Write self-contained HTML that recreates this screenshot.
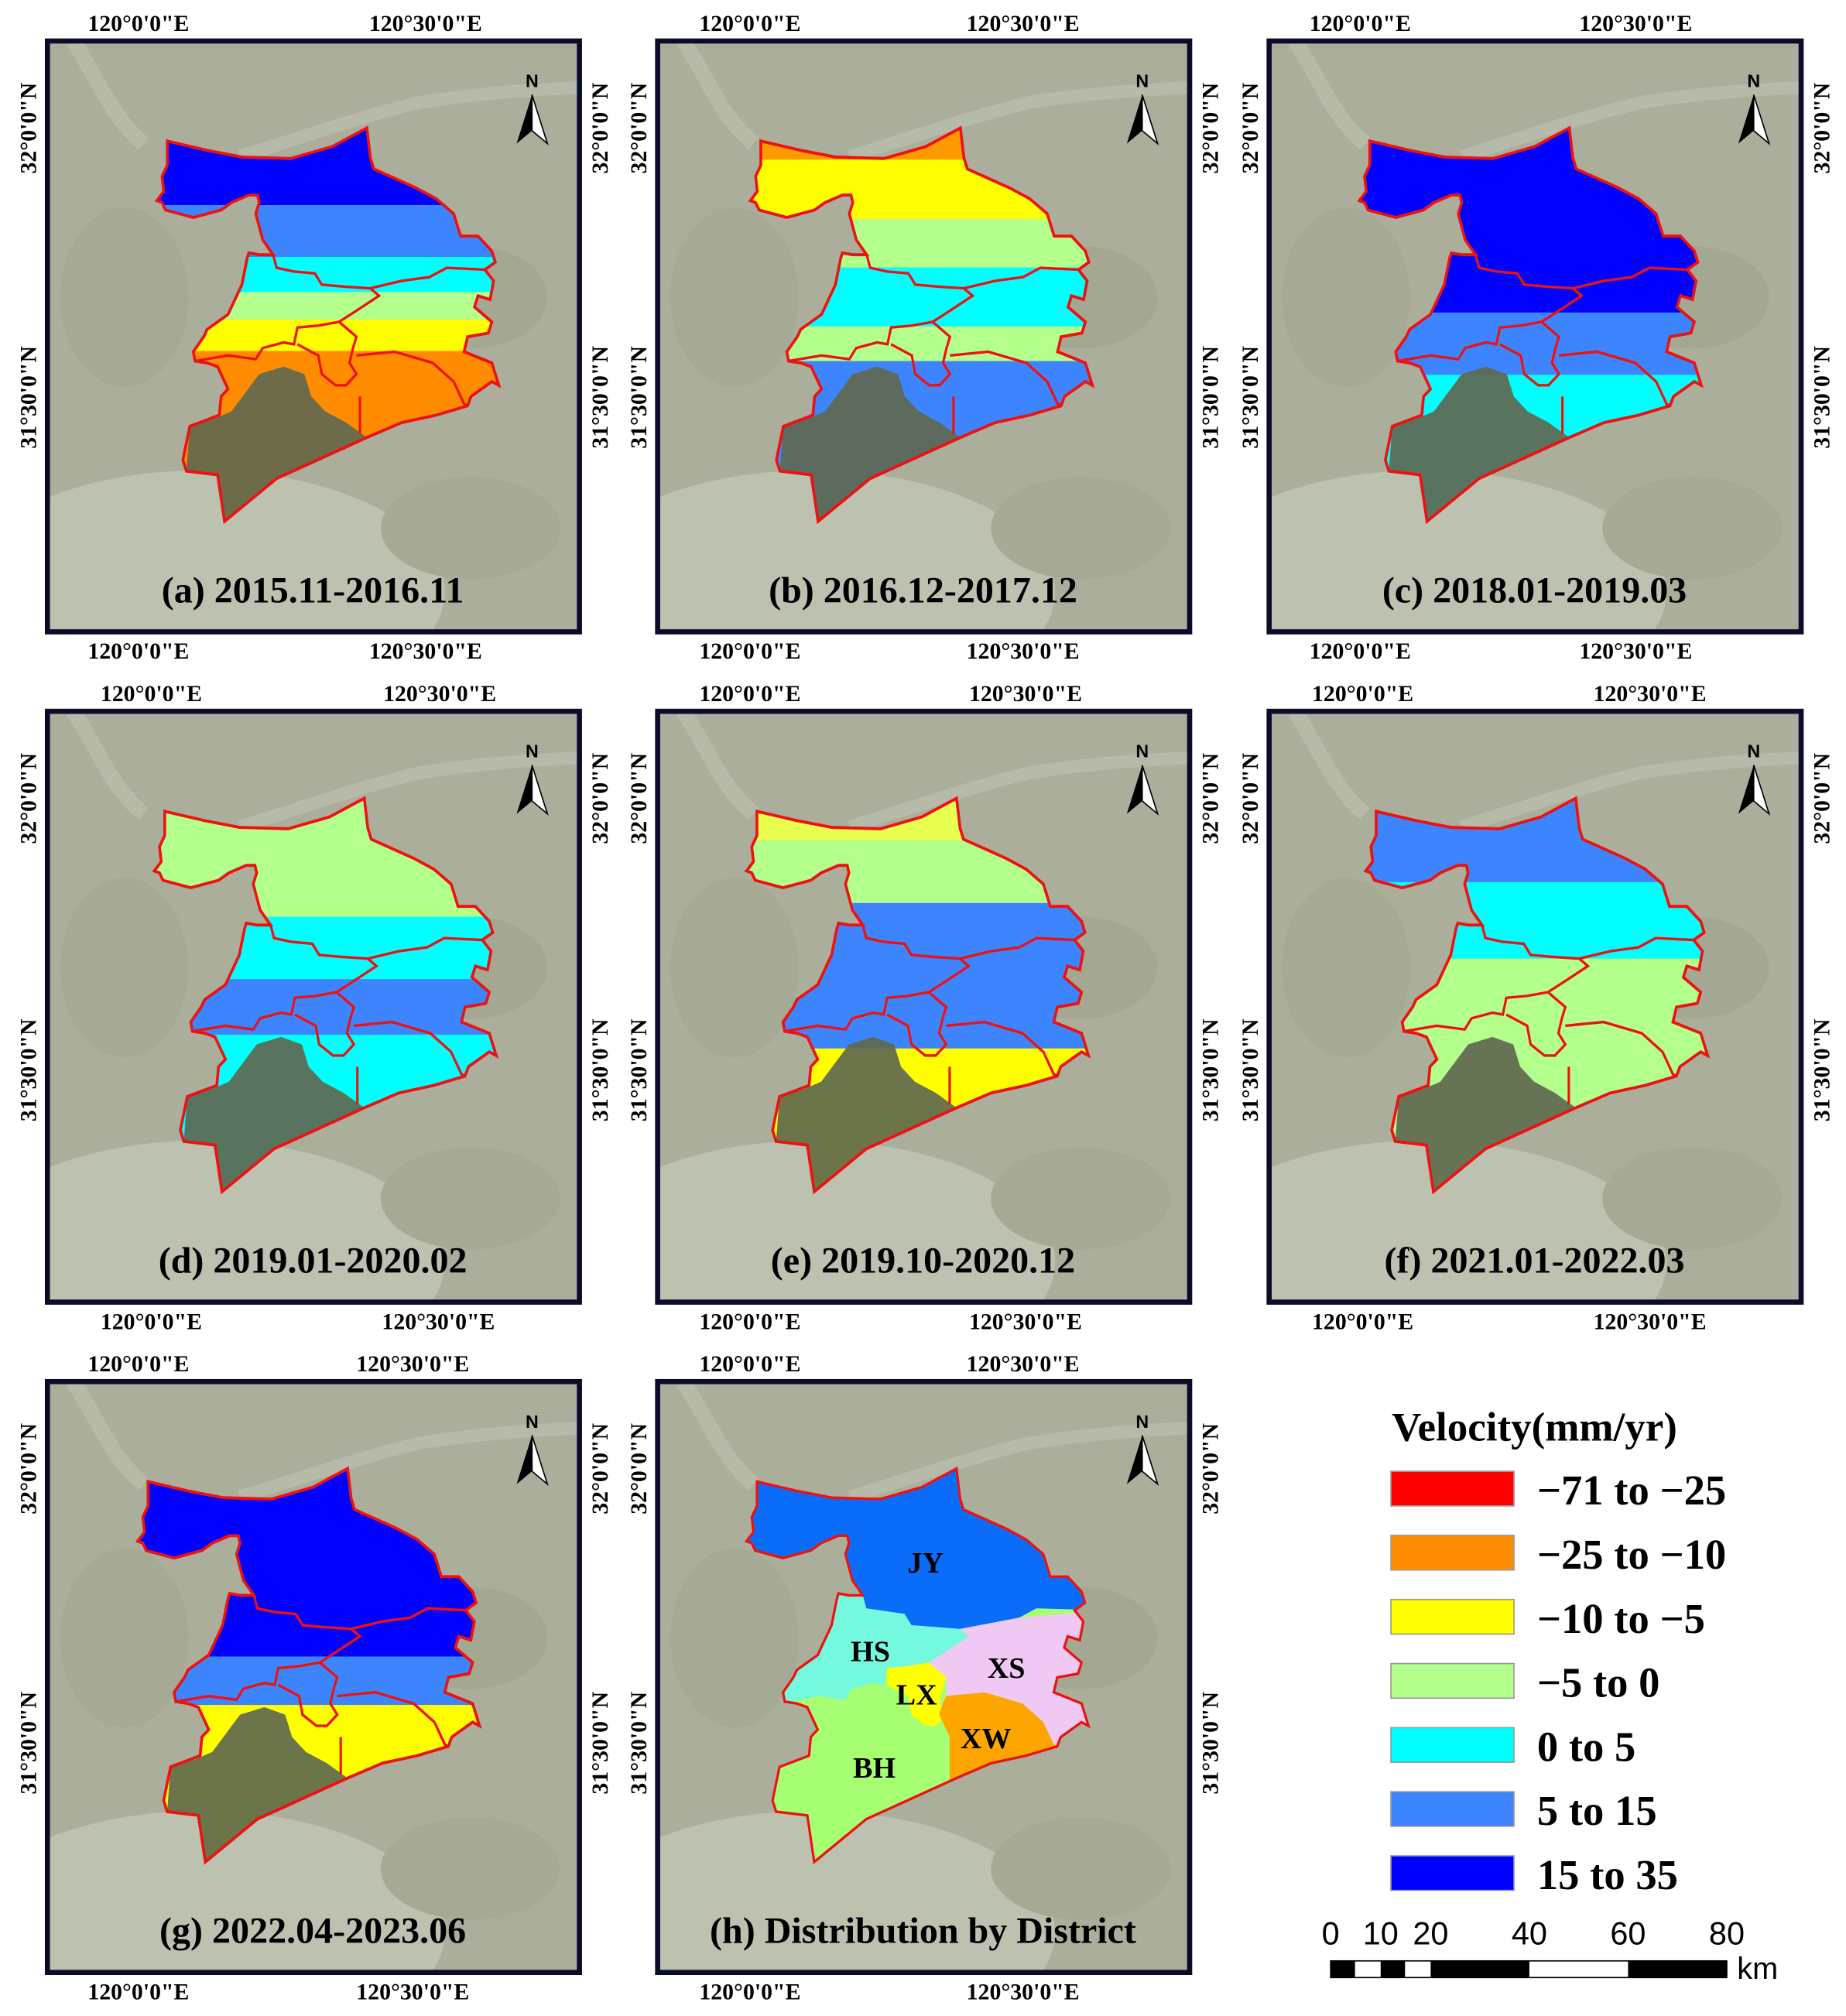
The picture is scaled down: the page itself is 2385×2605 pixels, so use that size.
<!DOCTYPE html>
<html><head><meta charset="utf-8"><style>html,body{margin:0;padding:0;background:#fff}svg{display:block}</style></head><body>
<svg xmlns="http://www.w3.org/2000/svg" xmlns:xlink="http://www.w3.org/1999/xlink" width="2385" height="2605" viewBox="0 0 1440 1573" preserveAspectRatio="none">
<defs>
<clipPath id="frm"><rect x="0" y="0" width="415" height="461"/></clipPath>
<clipPath id="shp"><polygon id="outer" points="285,275 400,300 500,318 640,322 760,290 860,240 870,320 880,350 1000,400 1060,430 1110,470 1130,530 1180,530 1220,570 1230,600 1200,620 1225,650 1215,700 1180,690 1170,720 1220,760 1210,790 1150,800 1140,840 1220,870 1240,930 1220,920 1160,960 1150,985 1060,1010 960,1030 860,1070 600,1180 450,1295 430,1170 340,1160 330,1130 350,1040 435,1010 440,960 460,940 430,880 400,870 365,865 360,840 390,800 400,780 460,740 480,700 500,660 515,590 520,575 550,580 590,580 560,540 540,470 550,440 545,420 520,420 470,440 440,460 360,480 320,470 280,460 270,440 255,435 275,410 270,370 285,340 285,300"/></clipPath>
<g id="bg">
<rect x="0" y="0" width="415" height="461" fill="#abae9b"/>
<path d="M20,0 C40,30 50,60 75,80" stroke="#b6bba8" stroke-width="12" fill="none"/>
<path d="M150,90 C200,75 240,60 290,48 C340,40 380,38 420,36" stroke="#b5bba8" stroke-width="10" fill="none"/>
<ellipse cx="120" cy="430" rx="190" ry="95" fill="#bcc1b0"/>
<ellipse cx="330" cy="200" rx="60" ry="40" fill="#a4a893"/>
<ellipse cx="60" cy="200" rx="50" ry="70" fill="#a6aa95"/>
<ellipse cx="330" cy="380" rx="70" ry="40" fill="#a6aa95"/>
</g>
<g id="lake"><polygon points="340,1160 350,1040 420,1020 470,1000 550,900 620,880 680,900 700,960 740,1000 800,1030 860,1070 600,1180 450,1295 430,1170" fill="#5f6850" opacity="0.92"/></g>
<g id="dlines" fill="none" stroke="#ee1111" stroke-width="7">
<polyline points="590,580 600,615 650,625 710,630 730,660 790,665 870,670 960,650 1040,640 1090,615 1200,620"/>
<polyline points="870,670 895,690 830,730 780,760 720,770 660,775 650,820 620,815 560,830 540,860 460,850 365,865"/>
<polyline points="780,760 830,800 820,830 810,870 830,900 800,930 770,930 730,900 720,850 660,820"/>
<polyline points="830,850 940,840 1050,870 1110,920 1140,980 1150,985"/>
<polyline points="840,960 840,1060"/>
</g>
<g id="narrow"><text x="378" y="36" font-family="Liberation Sans, sans-serif" font-size="14" text-anchor="middle">N</text><polygon points="378,42 366,80 378,70" fill="#000"/><polygon points="378,42 390,80 378,70" fill="#fff" stroke="#000" stroke-width="1"/></g>
</defs>

<g font-family="Liberation Serif, serif" font-weight="bold">

<!-- Panel a -->
<g transform="translate(37,32)">
<g clip-path="url(#frm)"><use xlink:href="#bg"/>
<g transform="translate(16.3,-2) scale(0.2708,0.291)">
<g clip-path="url(#shp)"><rect x="0" y="0" width="1600" height="447" fill="#0000ff"/><rect x="0" y="447" width="1600" height="139" fill="#3d85ff"/><rect x="0" y="586" width="1600" height="94" fill="#00ffff"/><rect x="0" y="680" width="1600" height="74" fill="#b3ff8c"/><rect x="0" y="754" width="1600" height="84" fill="#ffff00"/><rect x="0" y="838" width="1600" height="600" fill="#ff8c00"/></g>
<use xlink:href="#lake"/><use xlink:href="#dlines"/><use xlink:href="#outer" fill="none" stroke="#ee1111" stroke-width="8"/></g>
<use xlink:href="#narrow"/></g>
<rect x="0" y="0" width="415" height="461" fill="none" stroke="#0b0b2a" stroke-width="4"/>
<text x="207" y="438" font-size="29" text-anchor="middle">(a) 2015.11-2016.11</text>
<text x="71" y="-8" font-size="18" text-anchor="middle">120°0'0"E</text><text x="295" y="-8" font-size="18" text-anchor="middle">120°30'0"E</text>
<text x="71" y="482" font-size="18" text-anchor="middle">120°0'0"E</text><text x="295" y="482" font-size="18" text-anchor="middle">120°30'0"E</text>
<text transform="translate(-9,68) rotate(-90)" font-size="18" text-anchor="middle">32°0'0"N</text><text transform="translate(-9,278) rotate(-90)" font-size="18" text-anchor="middle">31°30'0"N</text>
<text transform="translate(437,68) rotate(-90)" font-size="18" text-anchor="middle">32°0'0"N</text><text transform="translate(437,278) rotate(-90)" font-size="18" text-anchor="middle">31°30'0"N</text>
</g>

<!-- Panel b -->
<g transform="translate(513,32)">
<g clip-path="url(#frm)"><use xlink:href="#bg"/>
<g transform="translate(3.3,-2) scale(0.2708,0.291)">
<g clip-path="url(#shp)"><rect x="0" y="0" width="1600" height="325" fill="#ff9900"/><rect x="0" y="325" width="1600" height="159" fill="#ffff00"/><rect x="0" y="484" width="1600" height="130" fill="#b3ff8c"/><rect x="0" y="614" width="1600" height="158" fill="#00ffff"/><rect x="0" y="772" width="1600" height="93" fill="#b3ff8c"/><rect x="0" y="865" width="1600" height="570" fill="#3d85ff"/></g>
<use xlink:href="#lake"/><use xlink:href="#dlines"/><use xlink:href="#outer" fill="none" stroke="#ee1111" stroke-width="8"/></g>
<use xlink:href="#narrow"/></g>
<rect x="0" y="0" width="415" height="461" fill="none" stroke="#0b0b2a" stroke-width="4"/>
<text x="207" y="438" font-size="29" text-anchor="middle">(b) 2016.12-2017.12</text>
<text x="72" y="-8" font-size="18" text-anchor="middle">120°0'0"E</text><text x="285" y="-8" font-size="18" text-anchor="middle">120°30'0"E</text>
<text x="72" y="482" font-size="18" text-anchor="middle">120°0'0"E</text><text x="285" y="482" font-size="18" text-anchor="middle">120°30'0"E</text>
<text transform="translate(-9,68) rotate(-90)" font-size="18" text-anchor="middle">32°0'0"N</text><text transform="translate(-9,278) rotate(-90)" font-size="18" text-anchor="middle">31°30'0"N</text>
<text transform="translate(437,68) rotate(-90)" font-size="18" text-anchor="middle">32°0'0"N</text><text transform="translate(437,278) rotate(-90)" font-size="18" text-anchor="middle">31°30'0"N</text>
</g>

<!-- Panel c -->
<g transform="translate(990,32)">
<g clip-path="url(#frm)"><use xlink:href="#bg"/>
<g transform="translate(1.3,-2) scale(0.2708,0.291)">
<g clip-path="url(#shp)"><rect x="0" y="0" width="1600" height="735" fill="#0000ff"/><rect x="0" y="735" width="1600" height="167" fill="#3d85ff"/><rect x="0" y="902" width="1600" height="530" fill="#00ffff"/></g>
<use xlink:href="#lake"/><use xlink:href="#dlines"/><use xlink:href="#outer" fill="none" stroke="#ee1111" stroke-width="8"/></g>
<use xlink:href="#narrow"/></g>
<rect x="0" y="0" width="415" height="461" fill="none" stroke="#0b0b2a" stroke-width="4"/>
<text x="207" y="438" font-size="29" text-anchor="middle">(c) 2018.01-2019.03</text>
<text x="71" y="-8" font-size="18" text-anchor="middle">120°0'0"E</text><text x="286" y="-8" font-size="18" text-anchor="middle">120°30'0"E</text>
<text x="71" y="482" font-size="18" text-anchor="middle">120°0'0"E</text><text x="286" y="482" font-size="18" text-anchor="middle">120°30'0"E</text>
<text transform="translate(-9,68) rotate(-90)" font-size="18" text-anchor="middle">32°0'0"N</text><text transform="translate(-9,278) rotate(-90)" font-size="18" text-anchor="middle">31°30'0"N</text>
<text transform="translate(437,68) rotate(-90)" font-size="18" text-anchor="middle">32°0'0"N</text><text transform="translate(437,278) rotate(-90)" font-size="18" text-anchor="middle">31°30'0"N</text>
</g>

<!-- Panel d -->
<g transform="translate(37,555)">
<g clip-path="url(#frm)"><use xlink:href="#bg"/>
<g transform="translate(14.3,-2) scale(0.2708,0.291)">
<g clip-path="url(#shp)"><rect x="0" y="0" width="1600" height="558" fill="#b3ff8c"/><rect x="0" y="558" width="1600" height="167" fill="#00ffff"/><rect x="0" y="725" width="1600" height="149" fill="#3d85ff"/><rect x="0" y="874" width="1600" height="560" fill="#00ffff"/></g>
<use xlink:href="#lake"/><use xlink:href="#dlines"/><use xlink:href="#outer" fill="none" stroke="#ee1111" stroke-width="8"/></g>
<use xlink:href="#narrow"/></g>
<rect x="0" y="0" width="415" height="461" fill="none" stroke="#0b0b2a" stroke-width="4"/>
<text x="207" y="438" font-size="29" text-anchor="middle">(d) 2019.01-2020.02</text>
<text x="81" y="-8" font-size="18" text-anchor="middle">120°0'0"E</text><text x="306" y="-8" font-size="18" text-anchor="middle">120°30'0"E</text>
<text x="81" y="482" font-size="18" text-anchor="middle">120°0'0"E</text><text x="305" y="482" font-size="18" text-anchor="middle">120°30'0"E</text>
<text transform="translate(-9,68) rotate(-90)" font-size="18" text-anchor="middle">32°0'0"N</text><text transform="translate(-9,280) rotate(-90)" font-size="18" text-anchor="middle">31°30'0"N</text>
<text transform="translate(437,68) rotate(-90)" font-size="18" text-anchor="middle">32°0'0"N</text><text transform="translate(437,280) rotate(-90)" font-size="18" text-anchor="middle">31°30'0"N</text>
</g>

<!-- Panel e -->
<g transform="translate(513,555)">
<g clip-path="url(#frm)"><use xlink:href="#bg"/>
<g transform="translate(0.3,-2) scale(0.2708,0.291)">
<g clip-path="url(#shp)"><rect x="0" y="0" width="1600" height="353" fill="#e8ff50"/><rect x="0" y="353" width="1600" height="168" fill="#b3ff8c"/><rect x="0" y="521" width="1600" height="390" fill="#3d85ff"/><rect x="0" y="911" width="1600" height="520" fill="#ffff00"/></g>
<use xlink:href="#lake"/><use xlink:href="#dlines"/><use xlink:href="#outer" fill="none" stroke="#ee1111" stroke-width="8"/></g>
<use xlink:href="#narrow"/></g>
<rect x="0" y="0" width="415" height="461" fill="none" stroke="#0b0b2a" stroke-width="4"/>
<text x="207" y="438" font-size="29" text-anchor="middle">(e) 2019.10-2020.12</text>
<text x="72" y="-8" font-size="18" text-anchor="middle">120°0'0"E</text><text x="287" y="-8" font-size="18" text-anchor="middle">120°30'0"E</text>
<text x="72" y="482" font-size="18" text-anchor="middle">120°0'0"E</text><text x="287" y="482" font-size="18" text-anchor="middle">120°30'0"E</text>
<text transform="translate(-9,68) rotate(-90)" font-size="18" text-anchor="middle">32°0'0"N</text><text transform="translate(-9,280) rotate(-90)" font-size="18" text-anchor="middle">31°30'0"N</text>
<text transform="translate(437,68) rotate(-90)" font-size="18" text-anchor="middle">32°0'0"N</text><text transform="translate(437,280) rotate(-90)" font-size="18" text-anchor="middle">31°30'0"N</text>
</g>

<!-- Panel f -->
<g transform="translate(990,555)">
<g clip-path="url(#frm)"><use xlink:href="#bg"/>
<g transform="translate(6.3,-2) scale(0.2708,0.291)">
<g clip-path="url(#shp)"><rect x="0" y="0" width="1600" height="465" fill="#3d85ff"/><rect x="0" y="465" width="1600" height="205" fill="#00ffff"/><rect x="0" y="670" width="1600" height="760" fill="#b3ff8c"/></g>
<use xlink:href="#lake"/><use xlink:href="#dlines"/><use xlink:href="#outer" fill="none" stroke="#ee1111" stroke-width="8"/></g>
<use xlink:href="#narrow"/></g>
<rect x="0" y="0" width="415" height="461" fill="none" stroke="#0b0b2a" stroke-width="4"/>
<text x="207" y="438" font-size="29" text-anchor="middle">(f) 2021.01-2022.03</text>
<text x="73" y="-8" font-size="18" text-anchor="middle">120°0'0"E</text><text x="297" y="-8" font-size="18" text-anchor="middle">120°30'0"E</text>
<text x="73" y="482" font-size="18" text-anchor="middle">120°0'0"E</text><text x="297" y="482" font-size="18" text-anchor="middle">120°30'0"E</text>
<text transform="translate(-9,68) rotate(-90)" font-size="18" text-anchor="middle">32°0'0"N</text><text transform="translate(-9,280) rotate(-90)" font-size="18" text-anchor="middle">31°30'0"N</text>
<text transform="translate(437,68) rotate(-90)" font-size="18" text-anchor="middle">32°0'0"N</text><text transform="translate(437,280) rotate(-90)" font-size="18" text-anchor="middle">31°30'0"N</text>
</g>

<!-- Panel g -->
<g transform="translate(37,1078)">
<g clip-path="url(#frm)"><use xlink:href="#bg"/>
<g transform="translate(1.3,-2) scale(0.2708,0.291)">
<g clip-path="url(#shp)"><rect x="0" y="0" width="1600" height="744" fill="#0000ff"/><rect x="0" y="744" width="1600" height="130" fill="#3d85ff"/><rect x="0" y="874" width="1600" height="560" fill="#ffff00"/></g>
<use xlink:href="#lake"/><use xlink:href="#dlines"/><use xlink:href="#outer" fill="none" stroke="#ee1111" stroke-width="8"/></g>
<use xlink:href="#narrow"/></g>
<rect x="0" y="0" width="415" height="461" fill="none" stroke="#0b0b2a" stroke-width="4"/>
<text x="207" y="438" font-size="29" text-anchor="middle">(g) 2022.04-2023.06</text>
<text x="71" y="-8" font-size="18" text-anchor="middle">120°0'0"E</text><text x="285" y="-8" font-size="18" text-anchor="middle">120°30'0"E</text>
<text x="71" y="482" font-size="18" text-anchor="middle">120°0'0"E</text><text x="285" y="482" font-size="18" text-anchor="middle">120°30'0"E</text>
<text transform="translate(-9,68) rotate(-90)" font-size="18" text-anchor="middle">32°0'0"N</text><text transform="translate(-9,282) rotate(-90)" font-size="18" text-anchor="middle">31°30'0"N</text>
<text transform="translate(437,68) rotate(-90)" font-size="18" text-anchor="middle">32°0'0"N</text><text transform="translate(437,282) rotate(-90)" font-size="18" text-anchor="middle">31°30'0"N</text>
</g>

<!-- Panel h -->
<g transform="translate(513,1078)">
<g clip-path="url(#frm)"><use xlink:href="#bg"/>
<g transform="translate(0.3,-2) scale(0.2708,0.291)">
<g clip-path="url(#shp)">
<rect x="0" y="0" width="1600" height="1400" fill="#a6ff73"/>
<polygon points="200,200 1300,200 1300,620 1090,615 1040,640 870,670 730,660 710,630 600,615 590,580 200,560" fill="#0a6dfa"/>
<polygon points="200,560 590,580 600,615 710,630 730,660 870,670 895,690 830,730 780,760 720,770 660,775 650,820 620,815 560,830 540,860 460,850 360,870 200,870" fill="#74f8de"/>
<polygon points="870,670 1040,640 1300,620 1300,980 1140,980 1110,920 1050,870 940,840 830,850 830,800 780,760 830,730 895,690" fill="#efc9f3"/>
<polygon points="660,775 720,770 780,760 830,800 820,830 810,870 830,900 800,930 770,930 730,900 720,850 660,820" fill="#ffff00"/>
<polygon points="830,850 940,840 1050,870 1110,920 1140,980 1300,990 1300,1100 840,1100 840,960 810,900 820,870" fill="#ffa500"/>
</g>
<use xlink:href="#outer" fill="none" stroke="#ee1111" stroke-width="7"/></g>
<use xlink:href="#narrow"/></g>
<rect x="0" y="0" width="415" height="461" fill="none" stroke="#0b0b2a" stroke-width="4"/>
<text x="209" y="149" font-size="23" text-anchor="middle">JY</text>
<text x="166" y="218" font-size="23" text-anchor="middle">HS</text>
<text x="202" y="252" font-size="23" text-anchor="middle">LX</text>
<text x="272" y="231" font-size="23" text-anchor="middle">XS</text>
<text x="256" y="286" font-size="23" text-anchor="middle">XW</text>
<text x="169" y="309" font-size="23" text-anchor="middle">BH</text>
<text x="207" y="438" font-size="29" text-anchor="middle">(h) Distribution by District</text>
<text x="72" y="-8" font-size="18" text-anchor="middle">120°0'0"E</text><text x="285" y="-8" font-size="18" text-anchor="middle">120°30'0"E</text>
<text x="72" y="482" font-size="18" text-anchor="middle">120°0'0"E</text><text x="285" y="482" font-size="18" text-anchor="middle">120°30'0"E</text>
<text transform="translate(-9,68) rotate(-90)" font-size="18" text-anchor="middle">32°0'0"N</text><text transform="translate(-9,282) rotate(-90)" font-size="18" text-anchor="middle">31°30'0"N</text>
<text transform="translate(437,68) rotate(-90)" font-size="18" text-anchor="middle">32°0'0"N</text><text transform="translate(437,282) rotate(-90)" font-size="18" text-anchor="middle">31°30'0"N</text>
</g>

<!-- Legend -->
<text x="1197" y="1124" font-size="32" text-anchor="middle">Velocity(mm/yr)</text>
<g stroke="#999" stroke-width="1">
<rect x="1085" y="1148" width="96" height="27" fill="#ff0000"/>
<rect x="1085" y="1198" width="96" height="27" fill="#ff8c00"/>
<rect x="1085" y="1248" width="96" height="27" fill="#ffff00"/>
<rect x="1085" y="1298" width="96" height="27" fill="#b3ff8c"/>
<rect x="1085" y="1348" width="96" height="27" fill="#00ffff"/>
<rect x="1085" y="1398" width="96" height="27" fill="#3d85ff"/>
<rect x="1085" y="1448" width="96" height="27" fill="#0000ff"/>
</g>
<g font-size="33">
<text x="1199" y="1174">−71 to −25</text>
<text x="1199" y="1224">−25 to −10</text>
<text x="1199" y="1274">−10 to −5</text>
<text x="1199" y="1324">−5 to 0</text>
<text x="1199" y="1374">0 to 5</text>
<text x="1199" y="1424">5 to 15</text>
<text x="1199" y="1474">15 to 35</text>
</g>
</g>

<!-- Scale bar -->
<g font-family="Liberation Sans, sans-serif" font-size="25" text-anchor="middle">
<text x="1038" y="1517">0</text><text x="1077" y="1517">10</text><text x="1116" y="1517">20</text><text x="1193" y="1517">40</text><text x="1270" y="1517">60</text><text x="1347" y="1517">80</text>
<text x="1371" y="1544" font-size="24">km</text>
</g>
<rect x="1038" y="1530" width="309" height="13" fill="#fff" stroke="#000" stroke-width="1"/>
<rect x="1038" y="1530" width="19" height="13" fill="#000"/>
<rect x="1077" y="1530" width="19" height="13" fill="#000"/>
<rect x="1116" y="1530" width="77" height="13" fill="#000"/>
<rect x="1270" y="1530" width="77" height="13" fill="#000"/>
</svg>
</body></html>
